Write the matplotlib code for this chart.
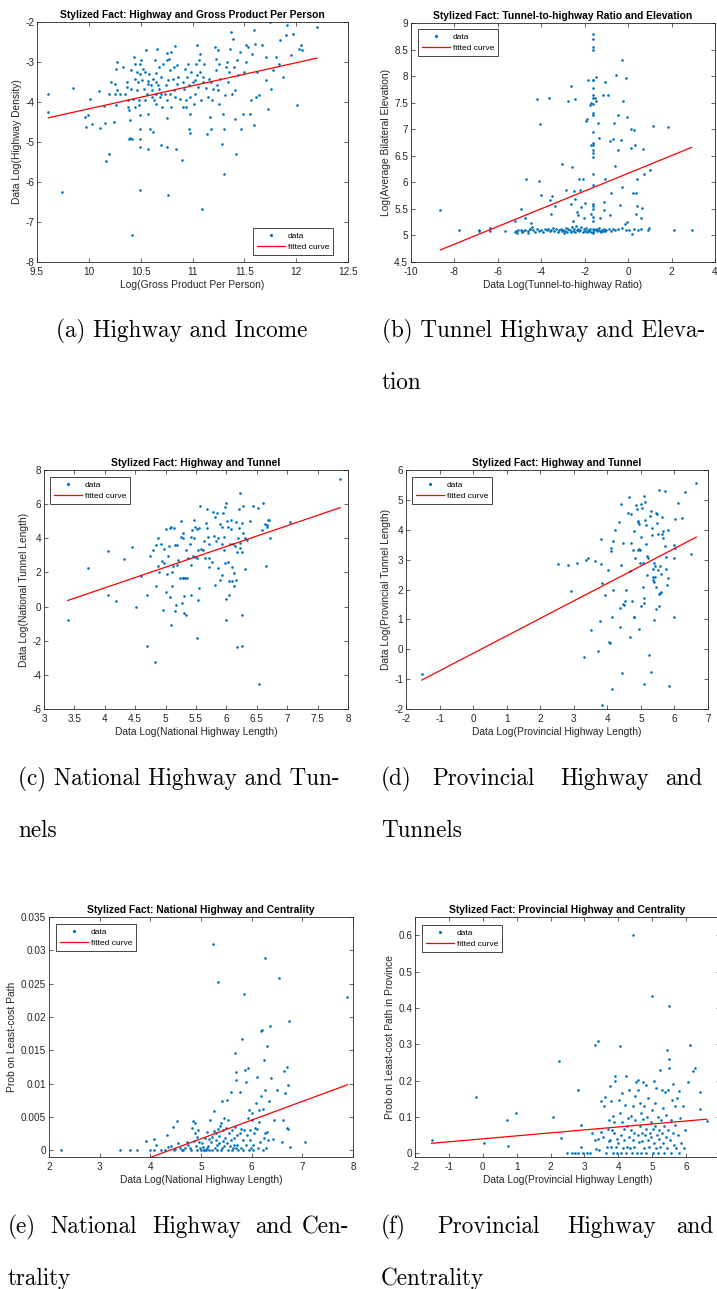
import numpy as np
import matplotlib.pyplot as plt
from matplotlib.ticker import FuncFormatter

plt.rcParams['font.family'] = ['Liberation Sans', 'DejaVu Sans']
plt.rcParams['axes.unicode_minus'] = False

BLUE = '#0072BD'
RED = '#FF0000'
INK = '#262626'
W, H = 717, 1289

# ---- data (log values per region) ----
income_pts = [
    (9.61, -3.81), (9.61, -4.25), (9.85, -3.65), (9.74, -6.25), (10.01, -3.93), (9.96, -4.38), (9.97, -4.63),
    (9.99, -4.33), (10.03, -4.54), (10.10, -3.72), (10.11, -4.65), (10.15, -4.09), (10.16, -4.52), (10.17, -5.48),
    (10.19, -5.29), (10.19, -3.79), (10.21, -3.50), (10.24, -4.50), (10.25, -3.54), (10.25, -3.79), (10.27, -3.00),
    (10.26, -3.17), (10.27, -3.69), (10.26, -4.07), (10.30, -3.79), (10.33, -3.12), (10.35, -3.79), (10.37, -3.62),
    (10.38, -3.96), (10.37, -3.50), (10.38, -4.12), (10.39, -4.21), (10.39, -4.93), (10.40, -4.90), (10.40, -4.46),
    (10.41, -3.21), (10.41, -3.67), (10.42, -7.33), (10.42, -4.92), (10.43, -3.92), (10.44, -2.88), (10.45, -3.04),
    (10.45, -3.42), (10.45, -4.12), (10.46, -3.25), (10.46, -3.71), (10.47, -3.50), (10.48, -3.96), (10.49, -3.29),
    (10.49, -3.04), (10.48, -4.08), (10.49, -4.33), (10.49, -4.67), (10.49, -4.92), (10.49, -5.13), (10.49, -6.19),
    (10.50, -2.96), (10.52, -3.17), (10.53, -3.67), (10.51, -3.46), (10.54, -3.96), (10.54, -3.25), (10.55, -2.71),
    (10.56, -3.79), (10.57, -3.48), (10.57, -3.54), (10.57, -4.29), (10.57, -5.17), (10.58, -3.29), (10.59, -4.67),
    (10.60, -3.58), (10.61, -3.71), (10.61, -3.88), (10.62, -4.75), (10.62, -3.42), (10.63, -3.94), (10.64, -2.96),
    (10.65, -3.27), (10.65, -3.50), (10.65, -3.79), (10.65, -4.04), (10.66, -2.67), (10.67, -3.58), (10.68, -3.12),
    (10.68, -3.67), (10.69, -3.88), (10.70, -3.37), (10.70, -3.79), (10.71, -4.12), (10.72, -3.04), (10.70, -5.08),
    (10.73, -3.79), (10.74, -3.58), (10.75, -3.96), (10.75, -4.40), (10.75, -2.96), (10.75, -5.13), (10.75, -2.78),
    (10.76, -6.33), (10.76, -3.46), (10.77, -2.92), (10.78, -3.21), (10.78, -3.79), (10.79, -4.12), (10.79, -2.75),
    (10.81, -3.42), (10.82, -3.71), (10.82, -3.12), (10.83, -3.88), (10.83, -2.61), (10.84, -5.17), (10.85, -3.54),
    (10.85, -3.08), (10.86, -3.37), (10.88, -3.92), (10.90, -5.46), (10.91, -4.12), (10.91, -3.50), (10.92, -3.67),
    (10.93, -3.17), (10.94, -4.12), (10.94, -3.96), (10.95, -3.37), (10.96, -3.04), (10.97, -3.58), (10.98, -4.29),
    (10.97, -4.67), (10.98, -4.78), (10.98, -3.88), (10.99, -3.25), (11.00, -3.50), (11.01, -4.04), (11.02, -3.46),
    (11.02, -3.79), (11.03, -3.04), (11.04, -3.33), (11.04, -2.58), (11.05, -3.62), (11.06, -2.96), (11.07, -2.79),
    (11.07, -3.25), (11.08, -3.96), (11.09, -6.67), (11.10, -3.37), (11.10, -3.50), (11.11, -3.04), (11.13, -3.65),
    (11.14, -4.79), (11.15, -3.88), (11.16, -3.42), (11.17, -4.38), (11.18, -3.50), (11.18, -4.67), (11.19, -3.96),
    (11.20, -3.67), (11.22, -2.62), (11.23, -2.92), (11.23, -3.21), (11.24, -3.58), (11.25, -2.69), (11.25, -3.71),
    (11.26, -4.04), (11.26, -3.04), (11.27, -3.42), (11.28, -5.04), (11.29, -4.29), (11.30, -5.79), (11.30, -4.67),
    (11.31, -3.83), (11.32, -3.12), (11.33, -3.00), (11.34, -3.50), (11.35, -3.25), (11.36, -2.67), (11.37, -2.25),
    (11.38, -3.79), (11.39, -2.42), (11.40, -3.12), (11.41, -3.71), (11.41, -4.42), (11.42, -5.31), (11.43, -2.96),
    (11.44, -3.33), (11.46, -2.75), (11.47, -4.67), (11.49, -4.29), (11.50, -3.25), (11.52, -2.58), (11.52, -3.00),
    (11.54, -2.62), (11.55, -4.29), (11.56, -3.96), (11.57, -2.79), (11.59, -4.58), (11.59, -2.21), (11.60, -2.54),
    (11.61, -3.88), (11.62, -3.25), (11.64, -3.83), (11.67, -2.58), (11.71, -3.46), (11.71, -2.88), (11.73, -4.17),
    (11.75, -2.00), (11.76, -3.67), (11.78, -3.21), (11.81, -2.88), (11.83, -3.04), (11.84, -2.46), (11.87, -3.37),
    (11.90, -2.33), (11.91, -2.08), (11.95, -2.83), (11.97, -2.29), (12.01, -4.08), (12.03, -2.67), (12.05, -2.58),
    (12.06, -2.69), (12.20, -2.12),
]

elevation_pts = [
    (-8.65, 5.48), (-7.80, 5.11), (-6.88, 5.11), (-6.88, 5.08), (-6.34, 5.14), (-6.34, 5.09), (-5.65, 5.09),
    (-5.23, 5.06), (-5.15, 5.09), (-5.08, 5.10), (-5.20, 5.28), (-4.95, 5.50), (-4.82, 5.09), (-4.77, 5.33),
    (-4.69, 6.07), (-4.62, 5.05), (-4.54, 5.12), (-4.46, 5.23), (-4.20, 7.57), (-4.08, 7.09), (-4.11, 6.02),
    (-4.03, 5.77), (-3.66, 7.59), (-3.62, 5.66), (-3.57, 5.40), (-3.49, 5.75), (-3.35, 5.55), (-3.05, 6.34),
    (-2.85, 5.86), (-2.77, 7.53), (-2.58, 6.29), (-2.62, 5.59), (-2.62, 7.81), (-2.54, 5.27), (-2.49, 5.83),
    (-2.46, 7.56), (-2.43, 5.69), (-2.35, 5.44), (-2.31, 5.38), (-2.28, 6.07), (-2.23, 5.85), (-2.15, 5.53),
    (-2.08, 6.07), (-2.05, 5.33), (-2.00, 5.62), (-1.92, 7.15), (-1.88, 7.20), (-1.85, 7.92), (-1.77, 7.45),
    (-1.72, 6.70), (-1.69, 7.49), (-1.69, 5.41),
    (-1.62, 8.80), (-1.62, 8.70), (-1.62, 8.55), (-1.62, 8.50), (-1.62, 7.93), (-1.60, 7.92), (-1.62, 7.78),
    (-1.62, 7.65), (-1.60, 7.58), (-1.62, 7.47), (-1.62, 7.30), (-1.60, 7.27), (-1.62, 6.95), (-1.62, 6.75),
    (-1.60, 6.70), (-1.62, 6.60), (-1.62, 6.55), (-1.62, 6.48), (-1.62, 6.15), (-1.62, 5.95), (-1.62, 5.60),
    (-1.62, 5.55), (-1.62, 5.50), (-1.62, 5.35), (-1.62, 5.27), (-1.62, 5.12), (-1.60, 5.07), (-1.62, 5.05),
    (-1.51, 7.59), (-1.46, 7.99), (-1.46, 7.54), (-1.38, 7.11), (-1.35, 6.83), (-1.28, 5.33), (-1.15, 7.64),
    (-1.12, 5.63), (-1.12, 5.47), (-1.08, 6.07), (-1.05, 7.89), (-0.95, 7.65), (-0.85, 5.38), (-0.82, 6.78),
    (-0.77, 5.80), (-0.69, 6.81), (-0.65, 7.12), (-0.62, 6.30), (-0.54, 8.03), (-0.49, 7.26), (-0.46, 6.60),
    (-0.38, 5.58), (-0.31, 6.79), (-0.28, 8.30), (-0.28, 5.91), (-0.23, 7.54), (-0.15, 5.22), (-0.11, 7.97),
    (-0.06, 7.23), (-0.03, 5.25), (0.15, 7.00), (0.15, 6.65), (0.18, 5.03), (0.23, 5.79), (0.28, 6.99),
    (0.31, 6.70), (0.35, 5.41), (0.38, 5.80), (0.42, 5.55), (0.43, 6.07), (0.58, 5.32), (0.65, 5.52),
    (0.69, 6.63), (0.72, 6.15), (1.00, 6.24), (1.15, 7.07), (1.85, 7.05), (2.12, 5.11), (2.92, 5.11),
    (0.95, 5.14), (0.92, 5.11),
    (-4.90, 5.07), (-4.75, 5.11), (-4.60, 5.08), (-4.50, 5.13), (-4.40, 5.10), (-4.30, 5.06), (-4.20, 5.12),
    (-4.10, 5.09), (-4.00, 5.11), (-3.90, 5.07), (-3.85, 5.13), (-3.75, 5.10), (-3.70, 5.12), (-3.60, 5.08),
    (-3.55, 5.11), (-3.45, 5.14), (-3.40, 5.09), (-3.30, 5.12), (-3.25, 5.06), (-3.20, 5.10), (-3.10, 5.13),
    (-3.05, 5.08), (-3.00, 5.11), (-2.95, 5.05), (-2.90, 5.09), (-2.85, 5.14), (-2.80, 5.07), (-2.75, 5.12),
    (-2.70, 5.10), (-2.65, 5.06), (-2.60, 5.15), (-2.55, 5.09), (-2.50, 5.12), (-2.45, 5.07), (-2.40, 5.18),
    (-2.35, 5.10), (-2.30, 5.13), (-2.25, 5.08), (-2.20, 5.11), (-2.15, 5.15), (-2.10, 5.06), (-2.05, 5.12),
    (-2.00, 5.09), (-1.95, 5.14), (-1.90, 5.07), (-1.85, 5.11), (-1.80, 5.09), (-1.75, 5.13), (-1.70, 5.06),
    (-1.55, 5.10), (-1.50, 5.12), (-1.45, 5.08), (-1.40, 5.11), (-1.35, 5.14), (-1.30, 5.09), (-1.25, 5.07),
    (-1.20, 5.11), (-1.15, 5.09), (-1.10, 5.12), (-1.05, 5.08), (-1.00, 5.10), (-0.90, 5.13), (-0.80, 5.09),
    (-0.70, 5.12), (-0.60, 5.10), (-0.45, 5.12), (-0.30, 5.14), (-0.10, 5.11), (0.05, 5.10), (0.25, 5.12),
    (0.45, 5.11), (0.60, 5.12), (-5.10, 5.04), (-4.95, 5.10), (-4.45, 5.15),
]

nat_tunnel_pts = [
    (3.39, -0.77), (3.73, 2.25), (4.06, 3.28), (4.06, 0.65), (4.19, 0.30), (4.32, 2.80), (4.45, 3.48),
    (4.51, -0.03), (4.59, 1.80), (4.69, -2.33), (4.70, 0.68), (4.75, 2.97), (4.80, 3.32), (4.83, -3.25),
    (4.84, 1.22), (4.85, 3.61), (4.88, 4.00), (4.88, 2.39), (4.89, 2.05), (4.93, 3.67), (4.94, 2.68),
    (4.96, -0.20), (4.97, 3.36), (4.98, 2.54), (5.00, 4.55), (5.01, 0.83), (5.02, 1.90), (5.04, 2.97),
    (5.05, 3.54), (5.07, 0.54), (5.08, 4.63), (5.09, 4.69), (5.09, -1.10), (5.10, 1.18), (5.11, 2.05),
    (5.12, 2.35), (5.14, 4.63), (5.15, 3.61), (5.16, -0.24), (5.17, 0.10), (5.18, 2.44), (5.19, 3.58),
    (5.20, 2.74), (5.23, 1.66), (5.25, 5.02), (5.26, 4.10), (5.27, 0.20), (5.28, 1.66), (5.28, 4.00),
    (5.29, 4.33), (5.29, 1.66), (5.30, -0.38), (5.31, 0.59), (5.32, 1.66), (5.33, 3.32), (5.34, -0.48),
    (5.36, 1.66), (5.37, 2.83), (5.40, 3.65), (5.41, 2.44), (5.41, 0.69), (5.42, 4.10), (5.44, 4.49),
    (5.45, 2.99), (5.46, 4.00), (5.47, 5.08), (5.48, 2.89), (5.49, 4.69), (5.51, -1.84), (5.51, 2.83),
    (5.52, 4.55), (5.53, 0.40), (5.54, 3.32), (5.55, 1.08), (5.55, 4.59), (5.56, 5.90), (5.59, 3.38),
    (5.62, 3.32), (5.63, 3.87), (5.65, 2.87), (5.67, 4.92), (5.68, 5.70), (5.68, 4.59), (5.70, 4.10),
    (5.71, 2.31), (5.71, 2.87), (5.72, 3.65), (5.76, 2.60), (5.78, 5.54), (5.79, 4.14), (5.81, 1.28),
    (5.82, 5.27), (5.83, 3.87), (5.85, 5.47), (5.86, 4.00), (5.87, 2.25), (5.89, 4.84), (5.90, 1.57),
    (5.92, 3.65), (5.93, 4.65), (5.93, 1.86), (5.94, 5.50), (5.96, 3.32), (5.96, 4.10), (5.97, 2.58),
    (5.98, 5.82), (5.99, 0.44), (6.00, 6.05), (6.00, -0.77), (6.01, 5.02), (6.02, 2.60), (6.03, 4.65),
    (6.04, 1.51), (6.05, 0.69), (6.06, 3.65), (6.07, 5.08), (6.08, 4.53), (6.09, 1.47), (6.10, 2.29),
    (6.11, 3.65), (6.12, 1.18), (6.13, 1.96), (6.14, 3.52), (6.15, 4.98), (6.16, 1.57), (6.17, -2.39),
    (6.18, 3.17), (6.19, 4.00), (6.20, 4.59), (6.21, 5.70), (6.22, 3.75), (6.23, 6.64), (6.23, 3.42),
    (6.25, 4.92), (6.25, -2.33), (6.25, -0.48), (6.26, 3.22), (6.27, 5.90), (6.28, 4.30), (6.30, 4.00),
    (6.31, 2.21), (6.34, 3.91), (6.38, 5.04), (6.44, 5.90), (6.52, 5.80), (6.53, -4.51), (6.59, 4.49),
    (6.60, 6.05), (6.63, 4.84), (6.65, 2.35), (6.66, 4.78), (6.67, 4.65), (6.68, 5.08), (6.70, 5.08),
    (6.72, 4.04), (7.04, 4.98), (7.87, 7.47),
]

prov_tunnel_pts = [
    (-1.53, -0.83), (2.53, 2.85), (2.83, 2.82), (2.91, 1.96), (3.11, 2.90), (3.30, -0.26), (3.36, 3.00),
    (3.41, 3.04), (3.51, 0.63), (3.63, 2.94), (3.73, -0.07), (3.79, 0.96), (3.80, 2.86), (3.82, 3.68),
    (3.83, 2.21), (3.85, -1.88), (3.92, 1.82), (4.02, 2.66), (4.04, 0.24), (4.07, 0.21), (4.10, 3.40),
    (4.12, 3.30), (4.14, 1.08), (4.15, -1.33), (4.16, 1.99), (4.17, 3.64), (4.24, 3.99), (4.34, 4.27),
    (4.38, 1.38), (4.37, 0.76), (4.40, 4.85), (4.42, 2.82), (4.45, -0.80), (4.47, 3.55), (4.47, 1.52),
    (4.50, 1.49), (4.52, 1.60), (4.55, 1.97), (4.62, 4.57), (4.65, 5.11), (4.67, 0.40), (4.69, 2.62),
    (4.70, 3.57), (4.72, 4.52), (4.74, 1.63), (4.75, 3.33), (4.78, 3.96), (4.79, 1.08), (4.80, 1.08),
    (4.81, 3.05), (4.84, 4.83), (4.87, 4.71), (4.90, 4.30), (4.92, 3.33), (4.92, 4.27), (4.94, 4.18),
    (4.94, 3.36), (4.95, 0.67), (4.96, 3.33), (4.97, 2.90), (4.99, 3.75), (4.99, 1.45), (5.01, 4.85),
    (5.04, 4.72), (5.06, 2.90), (5.07, 2.10), (5.08, 1.73), (5.08, 1.54), (5.09, 5.13), (5.09, -1.16),
    (5.11, 4.31), (5.13, 4.92), (5.14, 3.52), (5.16, 4.16), (5.17, 3.13), (5.19, 2.47), (5.21, 3.05),
    (5.24, -0.18), (5.26, 4.47), (5.29, -0.77), (5.31, 4.63), (5.33, 4.05), (5.34, 3.83), (5.35, 2.68),
    (5.36, 2.43), (5.37, 2.32), (5.38, 2.25), (5.39, 2.90), (5.40, 0.99), (5.41, 2.77), (5.43, 2.43),
    (5.44, 2.10), (5.45, 4.57), (5.46, 1.34), (5.47, 4.52), (5.49, 4.22), (5.50, 3.86), (5.51, 2.64),
    (5.53, 1.84), (5.54, 5.33), (5.55, 1.45), (5.56, 1.88), (5.58, 2.77), (5.59, 2.51), (5.61, 1.93),
    (5.62, 4.44), (5.63, 3.86), (5.65, 3.74), (5.66, 3.97), (5.71, 5.31), (5.73, 3.44), (5.75, 2.68),
    (5.76, 3.08), (5.78, 2.16), (5.80, 3.99), (5.81, 2.38), (5.83, -1.22), (5.98, 1.08), (5.99, 3.05),
    (5.99, 3.49), (6.01, 3.38), (6.03, 4.35), (6.11, 4.91), (6.23, 4.41), (6.31, 5.28), (6.48, 3.19),
    (6.65, 5.58),
]

nat_centrality_pts = [
    (2.23, 0.0), (3.40, 0.0), (3.60, 0.0), (3.73, 0.0), (3.91, 0.00135), (3.99, 0.0001), (4.07, 0.0001),
    (4.07, 0.0017), (4.12, 0.00085), (4.22, 0.0), (4.29, 0.0001), (4.32, 0.00235), (4.35, 0.0005),
    (4.41, 0.0006), (4.44, 0.00345), (4.47, 0.0), (4.49, 0.0002), (4.52, 0.00435), (4.55, 0.0011),
    (4.58, 0.00035), (4.62, 0.0001), (4.65, 0.0), (4.68, 0.00035), (4.72, 0.0012), (4.75, 0.00085),
    (4.78, 0.00035), (4.81, 0.0), (4.83, 0.00335), (4.85, 0.00445), (4.87, 0.00135), (4.88, 0.0026),
    (4.89, 0.0041), (4.91, 0.0006), (4.93, 0.0), (4.93, 0.00195), (4.95, 0.0031), (4.97, 0.0012),
    (4.98, 0.00035), (5.00, 0.0001), (5.01, 0.0011), (5.03, 0.0005), (5.05, 0.0), (5.06, 0.0),
    (5.08, 0.00185), (5.09, 0.0001), (5.11, 0.00035), (5.12, 0.0027), (5.14, 0.0006), (5.16, 0.0),
    (5.16, 0.0017), (5.18, 0.00455), (5.19, 0.0012), (5.21, 0.002), (5.22, 0.0001), (5.24, 0.031),
    (5.26, 0.00295), (5.26, 0.00585), (5.28, 0.00035), (5.29, 0.0015), (5.30, 0.0026), (5.31, 0.0),
    (5.32, 0.00085), (5.33, 0.0032), (5.34, 0.0252), (5.36, 0.0011), (5.36, 0.0021), (5.38, 0.0036),
    (5.39, 0.0), (5.39, 0.0041), (5.41, 0.00035), (5.42, 0.00735), (5.43, 0.00135), (5.44, 0.003),
    (5.45, 0.00485), (5.46, 0.0006), (5.47, 0.00185), (5.49, 0.00335), (5.51, 0.0075), (5.52, 0.0011),
    (5.53, 0.0), (5.54, 0.0046), (5.55, 0.0026), (5.57, 0.0006), (5.59, 0.0087), (5.59, 0.0016),
    (5.61, 0.0), (5.62, 0.0031), (5.64, 0.00035), (5.65, 0.00085), (5.66, 0.00185), (5.67, 0.0146),
    (5.68, 0.0035), (5.69, 0.00035), (5.70, 0.0105), (5.70, 0.0118), (5.72, 0.00235), (5.72, 0.00085),
    (5.74, 0.0), (5.76, 0.00875), (5.77, 0.0026), (5.78, 0.0032), (5.79, 0.00035), (5.80, 0.01675),
    (5.82, 0.0016), (5.82, 0.0), (5.84, 0.02345), (5.85, 0.0031), (5.87, 0.012), (5.88, 0.00085),
    (5.89, 0.0102), (5.90, 0.00235), (5.92, 0.01235), (5.93, 0.00485), (5.94, 0.0061), (5.95, 0.0),
    (5.96, 0.0016), (5.97, 0.003), (5.98, 0.00035), (6.00, 0.0056), (6.01, 0.0046), (6.02, 0.00085),
    (6.03, 0.0), (6.05, 0.0026), (6.07, 0.00335), (6.09, 0.0071), (6.10, 0.0032), (6.11, 0.011),
    (6.13, 0.00035), (6.14, 0.0042), (6.15, 0.006), (6.17, 0.0012), (6.18, 0.0081), (6.19, 0.01785),
    (6.21, 0.0181), (6.22, 0.0), (6.23, 0.0062), (6.25, 0.00185), (6.25, 0.0135), (6.26, 0.02885),
    (6.27, 0.0091), (6.27, 0.0026), (6.28, 0.00035), (6.30, 0.0156), (6.31, 0.0027), (6.32, 0.0016),
    (6.35, 0.00735), (6.36, 0.0187), (6.38, 0.01085), (6.43, 0.0017), (6.44, 0.0045), (6.50, 0.0091),
    (6.53, 0.02585), (6.59, 0.0012), (6.61, 0.0046), (6.63, 0.01185), (6.66, 0.0086), (6.69, 0.0125),
    (6.69, 0.00335), (6.71, 0.00985), (6.71, 0.0032), (6.73, 0.01935), (6.75, 0.0005), (7.06, 0.00125),
    (7.89, 0.02295),
]

prov_centrality_pts = [
    (-1.51, 0.037), (-0.21, 0.155), (0.05, 0.029), (0.71, 0.092), (0.73, 0.021), (0.98, 0.112), (2.08, 0.099),
    (2.26, 0.255), (2.30, 0.043), (2.48, 0.0), (2.63, 0.0), (2.72, 0.0), (2.82, 0.0), (2.82, 0.173),
    (2.90, 0.077), (2.90, 0.018), (2.97, 0.0), (3.07, 0.0), (3.15, 0.0), (3.22, 0.055), (3.30, 0.299),
    (3.31, 0.037), (3.33, 0.011), (3.41, 0.308), (3.39, 0.039), (3.43, 0.009), (3.48, 0.058), (3.49, 0.143),
    (3.56, 0.044), (3.59, 0.131), (3.61, 0.155), (3.64, 0.0), (3.66, 0.018), (3.69, 0.066), (3.71, 0.035),
    (3.73, 0.092), (3.74, 0.037), (3.76, 0.184), (3.77, 0.018), (3.79, 0.144), (3.81, 0.064), (3.83, 0.0),
    (3.84, 0.103), (3.86, 0.055), (3.88, 0.087), (3.89, 0.212), (3.91, 0.198), (3.93, 0.018), (3.95, 0.039),
    (3.97, 0.0), (4.00, 0.029), (4.02, 0.147), (4.05, 0.294), (4.05, 0.110), (4.07, 0.051), (4.08, 0.0),
    (4.10, 0.087), (4.12, 0.167), (4.14, 0.014), (4.16, 0.066), (4.18, 0.037), (4.20, 0.133), (4.22, 0.212),
    (4.23, 0.0), (4.25, 0.018), (4.27, 0.074), (4.28, 0.097), (4.30, 0.175), (4.32, 0.044), (4.34, 0.014),
    (4.36, 0.064), (4.38, 0.103), (4.40, 0.0), (4.42, 0.600), (4.42, 0.037), (4.43, 0.131), (4.45, 0.055),
    (4.47, 0.018), (4.49, 0.158), (4.50, 0.092), (4.52, 0.195), (4.55, 0.0), (4.57, 0.051), (4.57, 0.173),
    (4.59, 0.201), (4.61, 0.032), (4.63, 0.138), (4.64, 0.074), (4.66, 0.0), (4.67, 0.110), (4.69, 0.055),
    (4.71, 0.035), (4.72, 0.195), (4.73, 0.094), (4.75, 0.014), (4.77, 0.129), (4.79, 0.051), (4.81, 0.066),
    (4.82, 0.189), (4.83, 0.0), (4.85, 0.101), (4.87, 0.152), (4.88, 0.037), (4.99, 0.434), (4.91, 0.018),
    (4.93, 0.055), (4.95, 0.085), (4.97, 0.044), (4.99, 0.120), (5.01, 0.0), (5.03, 0.066), (5.04, 0.198),
    (5.06, 0.029), (5.07, 0.138), (5.09, 0.074), (5.11, 0.014), (5.12, 0.179), (5.14, 0.051), (5.16, 0.101),
    (5.18, 0.0), (5.19, 0.039), (5.20, 0.064), (5.23, 0.228), (5.24, 0.018), (5.26, 0.092), (5.28, 0.055),
    (5.30, 0.175), (5.31, 0.124), (5.33, 0.029), (5.34, 0.0), (5.36, 0.074), (5.38, 0.170), (5.40, 0.044),
    (5.42, 0.106), (5.43, 0.285), (5.45, 0.014), (5.46, 0.064), (5.48, 0.175), (5.50, 0.405), (5.50, 0.260),
    (5.50, 0.235), (5.52, 0.037), (5.54, 0.092), (5.56, 0.0), (5.58, 0.147), (5.60, 0.055), (5.62, 0.191),
    (5.64, 0.023), (5.66, 0.078), (5.68, 0.129), (5.70, 0.014), (5.73, 0.152), (5.76, 0.051), (5.78, 0.0),
    (5.80, 0.172), (5.82, 0.097), (5.85, 0.029), (5.92, 0.129), (5.95, 0.014), (5.97, 0.064), (6.07, 0.197),
    (6.10, 0.297), (6.20, 0.227), (6.27, 0.235), (6.42, 0.170), (6.42, 0.122), (6.61, 0.089),
]

# least-squares line for each panel: (slope, intercept)
income_fit = (0.576, -9.93)
elevation_fit = (0.1668, 6.17)
nat_tunnel_fit = (1.214, -3.76)
prov_tunnel_fit = (0.585, -0.137)
nat_centrality_fit = (0.0028, -0.01226)
prov_centrality_fit = (0.00817, 0.040)

titles = [
    'Stylized Fact: Highway and Gross Product Per Person',
    'Stylized Fact: Tunnel-to-highway Ratio and Elevation',
    'Stylized Fact: Highway and Tunnel',
    'Stylized Fact: Highway and Tunnel',
    'Stylized Fact: National Highway and Centrality',
    'Stylized Fact: Provincial Highway and Centrality',
]
xlabels = [
    'Log(Gross Product Per Person)',
    'Data Log(Tunnel-to-highway Ratio)',
    'Data Log(National Highway Length)',
    'Data Log(Provincial Highway Length)',
    'Data Log(National Highway Length)',
    'Data Log(Provincial Highway Length)',
]
ylabels = [
    'Data Log(Highway Density)',
    'Log(Average Bilateral Elevation)',
    'Data Log(National Tunnel Length)',
    'Data Log(Provincial Tunnel Length)',
    'Prob on Least-cost Path',
    'Prob on Least-cost Path in Province',
]


def fig_rect(left, top, right, bottom):
    # pixel box on the page -> figure fraction
    return [left / W, 1 - bottom / H, (right - left) / W, (bottom - top) / H]


def scatter_panel(fig, box, pts, fit, title, xlabel, ylabel, xticks, yticks, ylim,
                  leg_loc, leg_anchor):
    ax = fig.add_axes(fig_rect(*box))
    xs = np.array([p[0] for p in pts])
    ys = np.array([p[1] for p in pts])
    ax.plot(xs, ys, 'o', ms=1.9, mew=0, color=BLUE, label='data')
    xf = np.array([xs.min(), xs.max()])
    ax.plot(xf, fit[0] * xf + fit[1], color=RED, lw=0.9, label='fitted curve')

    ax.set_xlim(xticks[0], xticks[-1])
    ax.set_ylim(*ylim)
    ax.set_xticks(xticks)
    ax.set_yticks(yticks)
    fmt = FuncFormatter(lambda v, _: '%g' % round(v, 6))
    ax.xaxis.set_major_formatter(fmt)
    ax.yaxis.set_major_formatter(fmt)

    ax.tick_params(direction='in', length=3, width=0.5, top=True, right=True,
                   labelsize=7.2, colors=INK)
    ax.tick_params(axis='x', pad=3.5)
    ax.tick_params(axis='y', pad=2)
    for s in ax.spines.values():
        s.set_color(INK)
        s.set_linewidth(0.6)

    ax.set_title(title, fontsize=7.4, fontweight='bold', pad=3)
    ax.set_xlabel(xlabel, fontsize=7.4, color=INK, labelpad=2)
    ax.set_ylabel(ylabel, fontsize=7.4, color=INK, labelpad=2.5)

    leg = ax.legend(loc=leg_loc, bbox_to_anchor=leg_anchor, borderaxespad=0, fontsize=6,
                    handlelength=3.4, handletextpad=0.3, borderpad=0.45, labelspacing=0.45,
                    fancybox=False, edgecolor=INK, framealpha=1, markerscale=1.2)
    leg.get_frame().set_linewidth(0.6)
    return ax


fig = plt.figure(figsize=(W / 100, H / 100), dpi=100)

scatter_panel(fig, (37, 22, 348, 262), income_pts, income_fit, titles[0], xlabels[0], ylabels[0],
              np.arange(9.5, 12.51, 0.5), np.arange(-8, -1.99, 1), (-8, -2),
              'lower right', (0.952, 0.029))
scatter_panel(fig, (411, 23, 715, 262), elevation_pts, elevation_fit, titles[1], xlabels[1], ylabels[1],
              np.arange(-10, 4.1, 2), np.arange(4.5, 9.01, 0.5), (4.5, 9),
              'upper left', (0.023, 0.975))
scatter_panel(fig, (44, 470, 348, 709), nat_tunnel_pts, nat_tunnel_fit, titles[2], xlabels[2], ylabels[2],
              np.arange(3, 8.01, 0.5), np.arange(-6, 8.1, 2), (-6, 8),
              'upper left', (0.02, 0.971))
scatter_panel(fig, (406, 470, 708, 709), prov_tunnel_pts, prov_tunnel_fit, titles[3], xlabels[3], ylabels[3],
              np.arange(-2, 7.1, 1), np.arange(-2, 6.1, 1), (-2, 6),
              'upper left', (0.02, 0.971))
scatter_panel(fig, (49, 917, 353, 1157), nat_centrality_pts, nat_centrality_fit, titles[4], xlabels[4], ylabels[4],
              np.arange(2, 8.1, 1), np.arange(0, 0.0351, 0.005), (-0.001, 0.035),
              'upper left', (0.023, 0.971))
scatter_panel(fig, (415, 917, 720, 1157), prov_centrality_pts, prov_centrality_fit, titles[5], xlabels[5], ylabels[5],
              np.arange(-2, 7.1, 1), np.arange(0, 0.61, 0.1), (-0.01, 0.65),
              'upper left', (0.023, 0.967))

# sub-captions set in Computer Modern, placed by page pixel
cap_style = dict(fontfamily='cmr10', fontsize=16.7, color='black', va='baseline')


def caption(x, y, s, ha='left'):
    fig.text(x / W, 1 - y / H, s, ha=ha, **cap_style)


caption(182, 337, '(a) Highway and Income', ha='center')
caption(382, 337, '(b) Tunnel Highway and Eleva-')
caption(382, 389, 'tion')
caption(18, 785, '(c) National Highway and Tun-')
caption(18, 837, 'nels')
for x, w in zip([381, 432, 560, 665], ['(d)', 'Provincial', 'Highway', 'and']):
    caption(x, 785, w)
caption(381, 837, 'Tunnels')
for x, w in zip([8, 50, 152, 255, 302], ['(e)', 'National', 'Highway', 'and', 'Cen-']):
    caption(x, 1233, w)
caption(8, 1285, 'trality')
for x, w in zip([381, 437, 567, 676], ['(f)', 'Provincial', 'Highway', 'and']):
    caption(x, 1233, w)
caption(381, 1285, 'Centrality')

fig.savefig('out.png', dpi=100)
